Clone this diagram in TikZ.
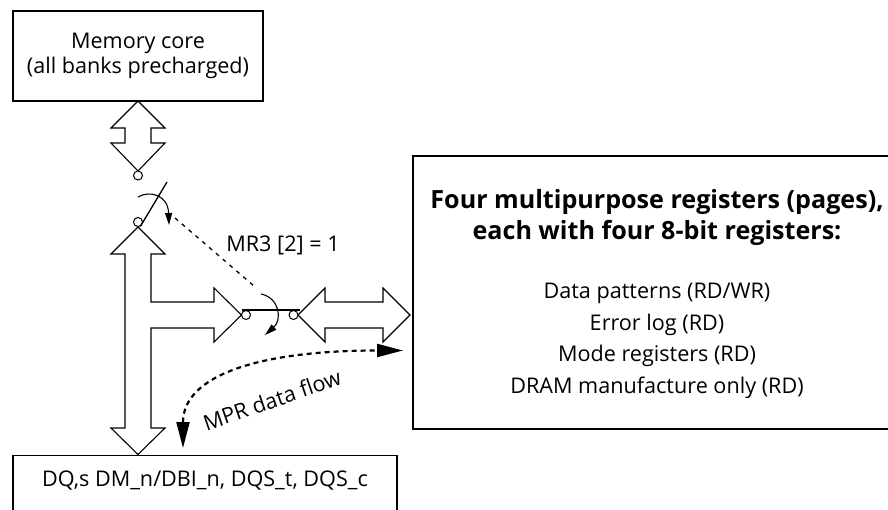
\documentclass[tikz,border=0pt]{standalone}
\usepackage{fontspec}
\setmainfont{Open Sans}
\usetikzlibrary{arrows.meta}
\begin{document}
\begin{tikzpicture}[x=1pt,y=-1pt,
  box/.style={draw, line width=1.4pt, inner sep=0pt},
  blockarrow/.style={draw, line width=1.1pt, fill=white, line join=miter},
  contact/.style={circle, draw, line width=1pt, fill=white, minimum size=9pt, inner sep=0pt},
  txt/.style={font=\fontsize{21.6pt}{24.3pt}\selectfont, align=center, inner sep=0pt},
  listtxt/.style={font=\fontsize{21.6pt}{31.7pt}\selectfont, align=center, inner sep=0pt},
  titletxt/.style={font=\fontsize{25.1pt}{31.3pt}\selectfont\bfseries, align=center, inner sep=0pt},
  lever/.style={line width=1.3pt},
  turn/.style={line width=1.1pt, -{Triangle[length=12pt,width=7pt]}},
  ctrl/.style={line width=1.3pt, dash pattern=on 4pt off 5pt},
  flow/.style={line width=2.2pt, dash pattern=on 5pt off 4pt, {Triangle[length=26pt,width=13pt]}-{Triangle[length=26pt,width=13pt]}}
]
\useasboundingbox (0,0) rectangle (888,510);
\clip (0,0) rectangle (888,510);

% boxes
\node[box, txt, minimum width=250pt, minimum height=90pt] (core) at (138,56) {Memory core\\(all banks precharged)};
\node[box, minimum width=487pt, minimum height=273pt] (regs) at (656.5,292.5) {};
\node[titletxt] (regtitle) at (657,217.5) {Four multipurpose registers (pages),\\each with four 8-bit registers:};
\node[listtxt] (reglist) at (657,341) {Data patterns (RD/WR)\\Error log (RD)\\Mode registers (RD)\\DRAM manufacture only (RD)};
\node[box, anchor=north, minimum width=384pt, minimum height=80pt] (dq) at (205,455) {};
\node[txt] (dqlabel) at (205,481) {DQ,s DM\_n/DBI\_n, DQS\_t, DQS\_c};

% block arrows
\draw[blockarrow] (138,101) -- (165,128) -- (151,128) -- (151,143) -- (165,143) -- (138,171)
  -- (111,143) -- (125,143) -- (125,128) -- (111,128) -- cycle;
\draw[blockarrow] (138,227) -- (165,254) -- (151,254) -- (151,302) -- (214,302) -- (214,288)
  -- (241.5,315) -- (214,342) -- (214,328) -- (151,328) -- (151,428) -- (165,428) -- (138,454.5)
  -- (111,428) -- (125,428) -- (125,254) -- (111,254) -- cycle;
\draw[blockarrow] (298,315) -- (325,288) -- (325,302) -- (383,302) -- (383,288) -- (410,315)
  -- (383,342) -- (383,328) -- (325,328) -- (325,342) -- cycle;

% switch contacts
\node[contact] (c1) at (138,175.5) {};
\node[contact] (c2) at (138,222) {};
\node[contact] (c3) at (246,315) {};
\node[contact] (c4) at (293.5,315) {};

% switches
\coordinate (leverend) at (167,182);
\draw[lever] (c2.-62) -- (leverend);
\draw[lever] (242,310) -- (300,310);
\draw[turn] (138,197) .. controls (150,190) and (168,195) .. (169,225);
\draw[turn] (261,294) .. controls (280,298) and (282,320) .. (265,335);

% control line
\coordinate (ctrlA) at (175,218);
\coordinate (ctrlB) at (254,286);
\draw[ctrl] (ctrlA) -- (ctrlB);
\node[txt] (mr3) at (283,245) {MR3 [2] = 1};

% MPR data flow
\coordinate (flowA) at (183,448);
\coordinate (flowB) at (403,350.5);
\draw[flow] (flowA) .. controls (183,375) and (260,350.5) .. (flowB);
\node[txt, rotate=19] (mpr) at (272,400) {MPR data flow};
\end{tikzpicture}
\end{document}
